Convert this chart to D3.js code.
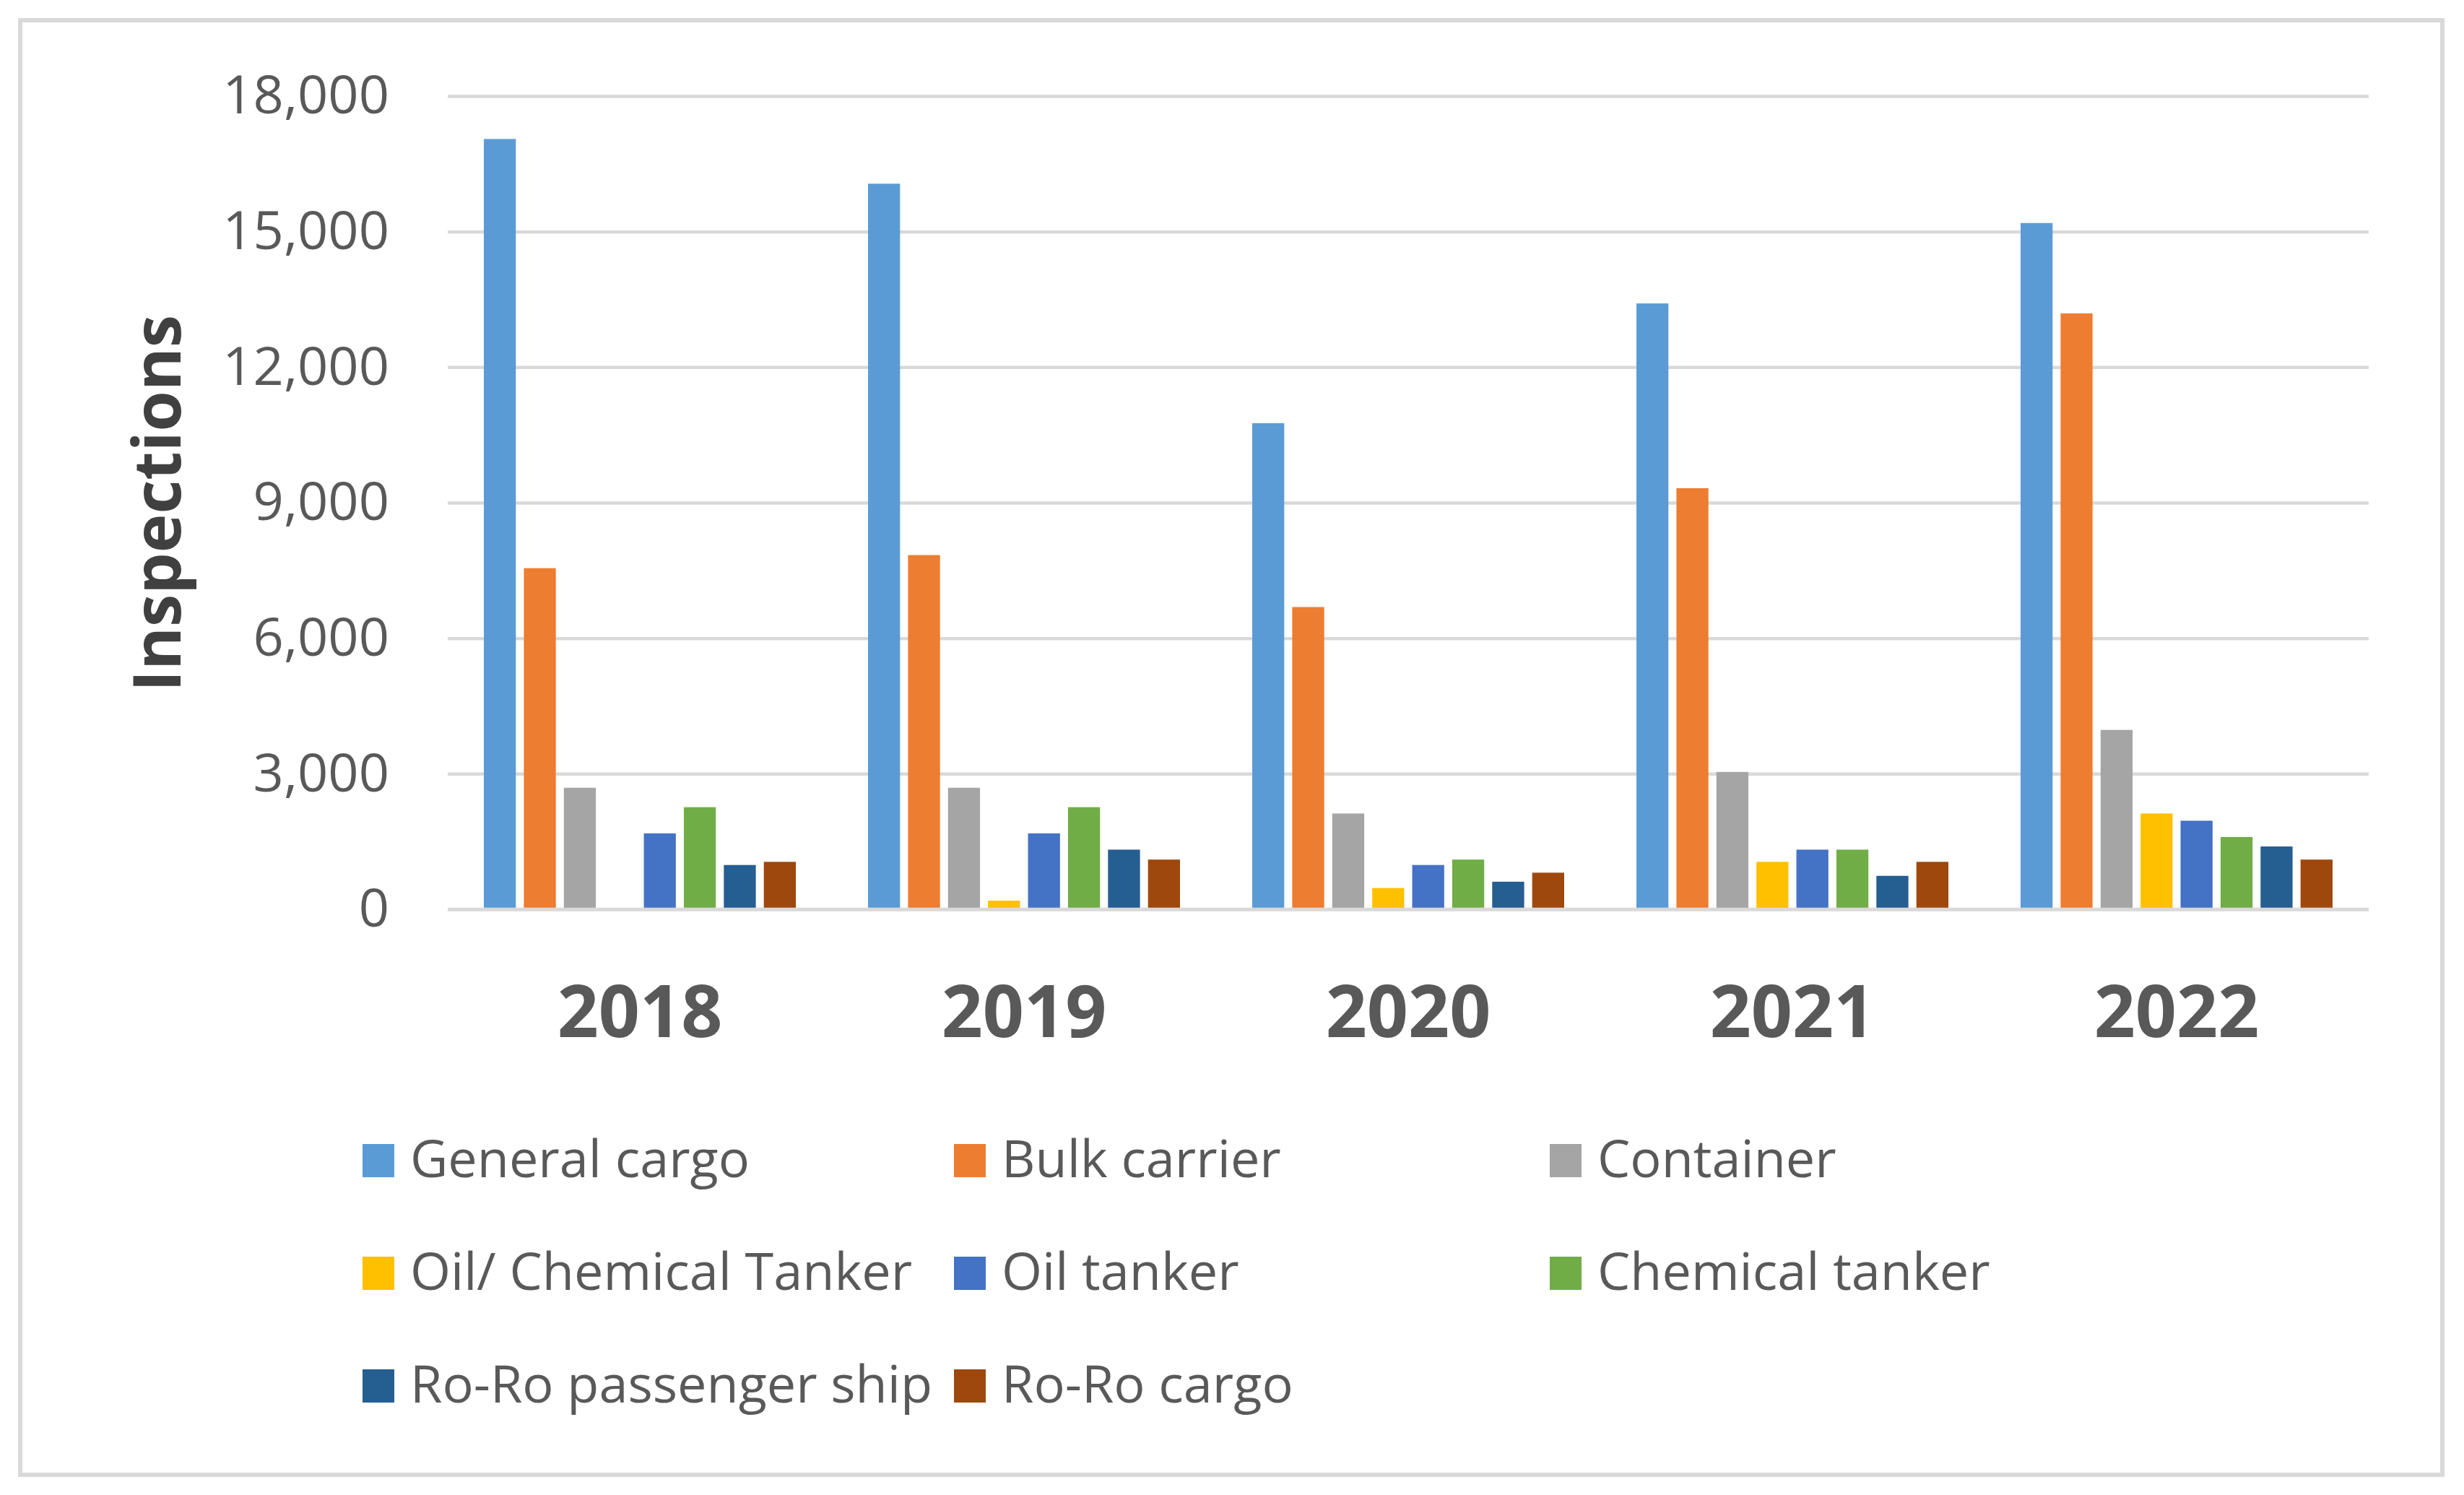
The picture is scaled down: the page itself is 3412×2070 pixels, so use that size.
<!DOCTYPE html>
<html>
<head>
<meta charset="utf-8">
<script src="https://cdn.jsdelivr.net/npm/d3@7"></script>
<style>
  body { margin: 0; background: #fff; }
  text { font-family: 'Open Sans', 'Noto Sans', sans-serif; }
</style>
</head>
<body>
<svg id="chart"></svg>
<script>
const years = ['2018', '2019', '2020', '2021', '2022']
const series = [
  'General cargo', 'Bulk carrier', 'Container',
  'Oil/ Chemical Tanker', 'Oil tanker', 'Chemical tanker',
  'Ro-Ro passenger ship', 'Ro-Ro cargo'
]
const generalCargo = [17050, 16060, 10760, 13410, 15190]
const bulkCarrier = [7550, 7840, 6690, 9320, 13190]
const container = [2690, 2690, 2120, 3040, 3970]
const oilChemTanker = [0, 190, 470, 1050, 2120]
const oilTanker = [1680, 1680, 980, 1320, 1960]
const chemicalTanker = [2260, 2260, 1100, 1320, 1600]
const roroPassenger = [980, 1320, 610, 740, 1390]
const roroCargo = [1050, 1100, 810, 1050, 1100]
const yTicks = [0, 3000, 6000, 9000, 12000, 15000, 18000]

const values = [generalCargo, bulkCarrier, container, oilChemTanker,
  oilTanker, chemicalTanker, roroPassenger, roroCargo]
const colors = ['#5B9BD5', '#ED7D31', '#A5A5A5', '#FFC000',
  '#4472C4', '#70AD47', '#255E91', '#9E480E']

const W = 3412, H = 2070
const plot = { left: 620, right: 3280, top: 133, bottom: 1259 }

const svg = d3.select('#chart').attr('width', W).attr('height', H)

// outer frame
svg.append('rect')
  .attr('x', 28).attr('y', 28)
  .attr('width', 3354).attr('height', 2014)
  .attr('fill', '#fff')
  .attr('stroke', '#d9d9d9')
  .attr('stroke-width', 6)

const x0 = d3.scaleBand()
  .domain(years)
  .range([plot.left, plot.right])
  .paddingInner(0.188)
  .paddingOuter(0.094)

const x1 = d3.scaleBand()
  .domain(series)
  .range([0, x0.bandwidth()])
  .paddingInner(0.2)

const y = d3.scaleLinear()
  .domain([0, 18000])
  .range([plot.bottom, plot.top])

// gridlines + tick labels
const yAxis = svg.append('g')
  .attr('transform', `translate(${plot.left},0)`)
  .call(d3.axisLeft(y)
    .tickValues(yTicks)
    .tickSize(-(plot.right - plot.left))
    .tickPadding(81)
    .tickFormat(d3.format(',')))
yAxis.select('.domain').remove()
yAxis.selectAll('line').attr('stroke', '#d9d9d9').attr('stroke-width', 4.5)
yAxis.selectAll('text')
  .attr('fill', '#595959')
  .style('font-size', '74px')

// bars
const groups = svg.append('g').selectAll('g')
  .data(years)
  .enter()
  .append('g')
  .attr('transform', d => `translate(${x0(d)},0)`)

groups.selectAll('rect')
  .data((yr, i) => series.map((s, j) => ({ s, v: values[j][i], c: colors[j] })))
  .enter()
  .append('rect')
  .attr('x', d => x1(d.s))
  .attr('width', x1.bandwidth())
  .attr('y', d => y(d.v))
  .attr('height', d => y(0) - y(d.v))
  .attr('fill', d => d.c)

// baseline on top of bars
svg.append('line')
  .attr('x1', plot.left).attr('x2', plot.right)
  .attr('y1', y(0)).attr('y2', y(0))
  .attr('stroke', '#d9d9d9').attr('stroke-width', 4.5)

// year labels
svg.append('g').selectAll('text')
  .data(years)
  .enter()
  .append('text')
  .attr('x', d => x0(d) + x0.bandwidth() / 2)
  .attr('y', 1436)
  .attr('text-anchor', 'middle')
  .attr('fill', '#595959')
  .style('font-size', '100px')
  .style('font-weight', 'bold')
  .text(d => d)

// y title
svg.append('text')
  .attr('transform', 'translate(250,697) rotate(-90)')
  .attr('text-anchor', 'middle')
  .attr('fill', '#404040')
  .style('font-size', '91px')
  .style('font-weight', 'bold')
  .text('Inspections')

// legend, 3 columns
const legendCols = [502, 1321, 2146]
const legendRows = [1630, 1786, 1942]
const legend = svg.append('g').selectAll('g')
  .data(series)
  .enter()
  .append('g')
  .attr('transform', (d, i) => `translate(${legendCols[i % 3]},${legendRows[Math.floor(i / 3)]})`)

legend.append('rect')
  .attr('x', 0).attr('y', -46)
  .attr('width', 44).attr('height', 46)
  .attr('fill', (d, i) => colors[i])

legend.append('text')
  .attr('x', 66).attr('y', 0)
  .attr('fill', '#595959')
  .style('font-size', '72px')
  .text(d => d)
</script>
</body>
</html>
